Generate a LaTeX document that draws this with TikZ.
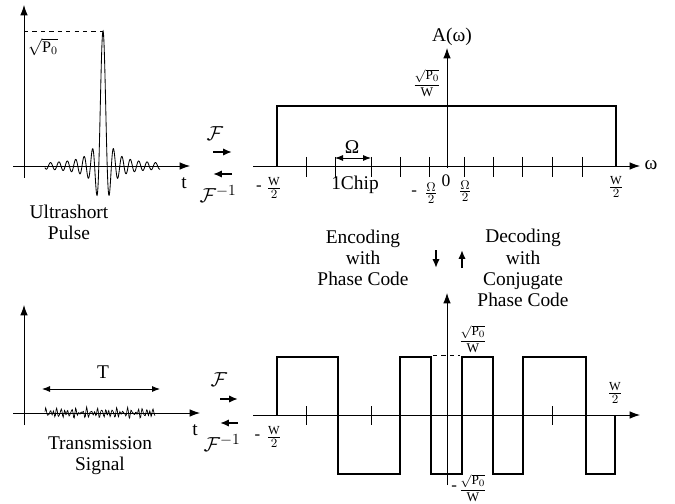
\documentclass[tikz,border=0pt]{standalone}
\usepackage{amsmath}
\usepackage{fontspec}
\setmainfont{Liberation Serif}
\usetikzlibrary{arrows.meta, positioning, calc}

\begin{document}
\begin{tikzpicture}[
  x=0.025cm, y=-0.025cm,
  every node/.style={font=\fontsize{13.8}{15}\selectfont, inner sep=0pt},
  axis/.style={-{Latex[length=2.6mm, width=1.9mm]}, line width=0.6pt},
  curve/.style={line width=0.6pt},
  wave/.style={line width=1.3pt, line join=miter},
  fop/.style={-{Latex[length=2.2mm, width=1.8mm]}, line width=1.5pt},
  dbl/.style={{Latex[length=2mm, width=1.5mm]}-{Latex[length=2mm, width=1.5mm]}, line width=0.6pt},
  frac/.style={font=\fontsize{12.5}{13}\selectfont},
  amp/.style={font=\fontsize{9.5}{10}\selectfont},
  fsym/.style={font=\fontsize{15}{15}\selectfont},
  minus/.style={font=\fontsize{12}{12}\selectfont},
  txt/.style={align=center},
  tick/.style={line width=0.6pt}
]
\useasboundingbox (0,0) rectangle (675,504);

  % Ultrashort pulse
  \coordinate (p1y0) at (24,178);
  \coordinate (p1y1) at (24,5);
  \coordinate (p1x0) at (13,166);
  \coordinate (p1x1) at (190,166);
  \coordinate (peak) at (103,31);
  \draw[axis] (p1y0) -- (p1y1);
  \draw[axis] (p1x0) -- (p1x1);
  \draw[curve] plot[domain=-58.1:57, samples=460]
    ({103+\x}, {166-135*sin(\x*180/4.2)/(\x*pi/4.2)});
  \draw[dashed] (p1y1 |- peak) -- (peak);
  \node[font=\fontsize{11.5}{12}\selectfont] (sqp1) at (43,47) {$\sqrt{\mathrm{P}_0}$};
  \node (t1) at (184,183) {t};
  \node[txt] (pulse) at (69,222) {Ultrashort\\Pulse};

  % Fourier pair (top)
  \node[fsym] (f1) at (215,134) {$\mathcal{F}$};
  \coordinate (f1a) at (213,152);
  \coordinate (f1b) at (232,152);
  \coordinate (f1c) at (232,174);
  \coordinate (f1d) at (213,174);
  \draw[fop] (f1a) -- (f1b);
  \draw[fop] (f1c) -- (f1d);
  \node[fsym] (fi1) at (218,194) {$\mathcal{F}^{-1}$};

  % Spectrum A(omega)
  \coordinate (s1x0) at (253,166);
  \coordinate (s1x1) at (640,166);
  \coordinate (s1y0) at (447,168);
  \coordinate (s1y1) at (447,48);
  \draw[axis] (s1x0) -- (s1x1);
  \draw[axis] (s1y0) -- (s1y1);
  \node (om) at (651,165) {ω};
  \node (aom) at (452,37) {A(ω)};
  \draw[wave] (277,166) -- (277,106) -- (616,106) -- (616,166);
  \foreach \u in {306,335,371,400,429,464,493,522,552,582}
    \draw[tick] (\u,157) -- (\u,177);
  \coordinate (ch0) at (335,158);
  \coordinate (ch1) at (371,158);
  \draw[dbl] (ch0) -- (ch1);
  \node (bigom) at (352,147) {Ω};
  \node (chip) at (355,185) {1Chip};
  \node[frac] (mw1) at (274,188) {$\frac{\mathrm{W}}{2}$};
  \node[minus, left=3pt of mw1] (mw1m) {-};
  \node[frac] (mo1) at (431,193) {$\frac{\Omega}{2}$};
  \node[minus, left=5pt of mo1] (mo1m) {-};
  \node[frac] (zero) at (446,181) {0};
  \node[frac] (po1) at (465,191) {$\frac{\Omega}{2}$};
  \node[frac] (pw1) at (616,187) {$\frac{\mathrm{W}}{2}$};
  \node[amp] (amp1) at (427,83) {$\dfrac{\sqrt{\mathrm{P}_0}}{\mathrm{W}}$};

  % Encoding / decoding
  \node[txt] (enc) at (363,258) {Encoding\\with\\Phase Code};
  \node[txt] (dec) at (523,268) {Decoding\\with\\Conjugate\\Phase Code};
  \coordinate (ea) at (436,250);
  \coordinate (eb) at (436,268);
  \coordinate (da) at (462,268);
  \coordinate (db) at (462,250);
  \draw[fop] (ea) -- (eb);
  \draw[fop] (da) -- (db);

  % Transmission signal
  \coordinate (p2y0) at (24,425);
  \coordinate (p2y1) at (24,305);
  \coordinate (p2x0) at (13,413);
  \coordinate (p2x1) at (200,413);
  \draw[axis] (p2y0) -- (p2y1);
  \draw[axis] (p2x0) -- (p2x1);
  \draw[curve, line width=0.5pt] plot[domain=0:110, samples=170]
    ({45+\x}, {413-4*(0.6*sin(\x*97)+0.4*sin(\x*131+40)+0.5*sin(\x*71+10))});
  \coordinate (tt0) at (42,389);
  \coordinate (tt1) at (160,389);
  \draw[dbl] (tt0) -- (tt1);
  \node (tlen) at (103,372) {T};
  \node (t2) at (195,430) {t};
  \node[txt] (trans) at (100,456) {Transmission\\Signal};

  % Fourier pair (bottom)
  \node[fsym] (f2) at (219,380) {$\mathcal{F}$};
  \coordinate (f2a) at (220,399);
  \coordinate (f2b) at (238,399);
  \coordinate (f2c) at (238,423);
  \coordinate (f2d) at (220,423);
  \draw[fop] (f2a) -- (f2b);
  \draw[fop] (f2c) -- (f2d);
  \node[fsym] (fi2) at (222,443) {$\mathcal{F}^{-1}$};

  % Phase-coded spectrum
  \coordinate (s2x0) at (253,415);
  \coordinate (s2x1) at (640,415);
  \coordinate (s2y0) at (447,485);
  \coordinate (s2y1) at (447,293);
  \draw[axis] (s2x0) -- (s2x1);
  \draw[axis] (s2y0) -- (s2y1);
  \draw[wave] (277,415) -- (277,357) -- (338,357) -- (338,474) -- (400,474)
    -- (400,357) -- (431,357) -- (431,474) -- (462,474) -- (462,357)
    -- (493,357) -- (493,474) -- (523,474) -- (523,357) -- (586,357)
    -- (586,474) -- (615,474) -- (615,415);
  \foreach \u in {306,371,552}
    \draw[tick] (\u,406) -- (\u,425);
  \draw[dashed, line width=0.5pt] (433,355) -- (460,355);
  \node[amp] (amp2) at (473,339) {$\dfrac{\sqrt{\mathrm{P}_0}}{\mathrm{W}}$};
  \node[amp] (amp3) at (473,488) {$\dfrac{\sqrt{\mathrm{P}_0}}{\mathrm{W}}$};
  \node[minus, left=1pt of amp3] (amp3m) {-};
  \node[frac] (pw2) at (615,393) {$\frac{\mathrm{W}}{2}$};
  \node[frac] (mw2) at (274,437) {$\frac{\mathrm{W}}{2}$};
  \node[minus, left=4pt of mw2] (mw2m) {-};

\end{tikzpicture}
\end{document}
